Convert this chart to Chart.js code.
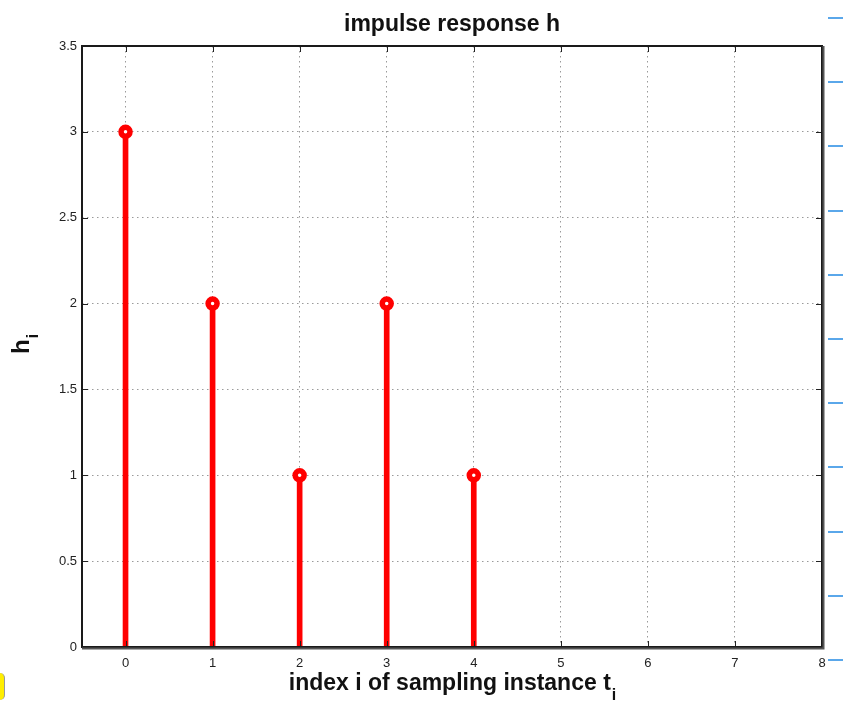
<!DOCTYPE html>
<html>
<head>
<meta charset="utf-8">
<script src="https://cdn.jsdelivr.net/npm/chart.js@4/dist/chart.umd.min.js"></script>
<style>
    html, body { margin: 0; padding: 0; background: #fff; }
    #wrap { position: relative; width: 843px; height: 708px; }
    #plot { position: absolute; left: 0; top: 0; }
    #edge-marks {
        position: absolute; left: 828px; top: 17px; width: 15px; height: 650px;
        background: repeating-linear-gradient(to bottom, #5aa7ea 0, #5aa7ea 2px, transparent 2px, transparent 64.2px);
    }
    #corner {
        position: absolute; left: -10px; top: 673px; width: 14px; height: 27px;
        background: #ffee00; border-right: 1px solid #999; border-radius: 5px;
    }
</style>
</head>
<body>
<div id="wrap">
    <canvas id="plot" width="843" height="708"></canvas>
    <div id="edge-marks"></div>
    <div id="corner"></div>
</div>
<script>
// stem plot of the sampled impulse response
const sampleIndex = [0, 1, 2, 3, 4];
const hValues     = [3, 2, 1, 2, 1];

const xTicks = [0, 1, 2, 3, 4, 5, 6, 7, 8];
const yTicks = [0, 0.5, 1, 1.5, 2, 2.5, 3, 3.5];

const TEXT_FONT = '"Liberation Sans", Arial, sans-serif';

const points = sampleIndex.map(function(x, i) { return { x: x, y: hValues[i] }; });

// box frame, inward tick marks, title and axis labels with subscripts
const framePlugin = {
    id: 'frame',
    afterDraw: function(chart) {
        var ctx = chart.ctx;
        var a = chart.chartArea;
        var xs = chart.scales.x, ys = chart.scales.y;
        ctx.save();

        ctx.strokeStyle = '#222';
        ctx.lineWidth = 1;
        ctx.beginPath();
        xs.ticks.forEach(function(t) {
            var px = Math.round(xs.getPixelForValue(t.value)) + 0.5;
            ctx.moveTo(px, a.top); ctx.lineTo(px, a.top + 6);
            ctx.moveTo(px, a.bottom); ctx.lineTo(px, a.bottom - 6);
        });
        ys.ticks.forEach(function(t) {
            var py = Math.round(ys.getPixelForValue(t.value)) + 0.5;
            ctx.moveTo(a.left, py); ctx.lineTo(a.left + 6, py);
            ctx.moveTo(a.right, py); ctx.lineTo(a.right - 6, py);
        });
        ctx.stroke();

        ctx.lineWidth = 2;
        ctx.strokeStyle = '#1a1a1a';
        ctx.strokeRect(a.left, a.top, a.right - a.left, a.bottom - a.top);
        ctx.lineWidth = 2;
        ctx.strokeStyle = '#555';
        ctx.beginPath();
        ctx.moveTo(a.right + 1.5, a.top);
        ctx.lineTo(a.right + 1.5, a.bottom + 1.5);
        ctx.lineTo(a.left, a.bottom + 1.5);
        ctx.stroke();

        ctx.fillStyle = '#111';
        ctx.textBaseline = 'alphabetic';

        // title
        ctx.font = 'bold 23px ' + TEXT_FONT;
        ctx.textAlign = 'center';
        ctx.fillText('impulse response h', (a.left + a.right) / 2, 31);

        // x label with subscript
        var main = 'index i of sampling instance t';
        ctx.font = 'bold 23px ' + TEXT_FONT;
        var w = ctx.measureText(main).width;
        ctx.font = 'bold 16px ' + TEXT_FONT;
        var ws = ctx.measureText('i').width;
        var x0 = (a.left + a.right) / 2 - (w + ws) / 2;
        ctx.textAlign = 'left';
        ctx.font = 'bold 23px ' + TEXT_FONT;
        ctx.fillText(main, x0, 690);
        ctx.font = 'bold 16px ' + TEXT_FONT;
        ctx.fillText('i', x0 + w + 1, 700);

        // y label, rotated
        ctx.translate(29, 354);
        ctx.rotate(-Math.PI / 2);
        ctx.font = 'bold 24px ' + TEXT_FONT;
        ctx.textAlign = 'left';
        ctx.fillText('h', 0, 0);
        var wh = ctx.measureText('h').width;
        ctx.font = 'bold 16px ' + TEXT_FONT;
        ctx.fillText('i', wh + 1, 9);

        ctx.restore();
    }
};

new Chart(document.getElementById('plot'), {
    data: {
        datasets: [
            {
                type: 'bar',
                data: points,
                backgroundColor: '#ff0000',
                barThickness: 5,
                order: 2
            },
            {
                type: 'scatter',
                data: points,
                showLine: false,
                pointRadius: 4.5,
                pointBorderWidth: 5.5,
                pointBorderColor: '#ff0000',
                pointBackgroundColor: '#ffffff',
                order: 1
            }
        ]
    },
    options: {
        responsive: false,
        animation: false,
        layout: { padding: { left: 0, top: 46, right: 21, bottom: 0 } },
        plugins: {
            legend: { display: false },
            tooltip: { enabled: false },
            title: { display: false }
        },
        scales: {
            x: {
                type: 'linear',
                min: -0.5,
                max: 8,
                offset: false,
                afterBuildTicks: function(scale) {
                    scale.ticks = xTicks.map(function(v) { return { value: v }; });
                },
                afterFit: function(scale) { scale.height = 61; },
                grid: {
                    color: '#9a9a9a',
                    lineWidth: 1,
                    offset: false,
                    drawTicks: false
                },
                border: { display: false, dash: [1.5, 3.5] },
                ticks: {
                    padding: 9,
                    color: '#222',
                    font: { family: TEXT_FONT, size: 13 },
                    maxRotation: 0,
                    callback: function(v) { return String(v); }
                }
            },
            y: {
                type: 'linear',
                min: 0,
                max: 3.5,
                afterBuildTicks: function(scale) {
                    scale.ticks = yTicks.map(function(v) { return { value: v }; });
                },
                afterFit: function(scale) { scale.width = 82; },
                grid: {
                    color: '#9a9a9a',
                    lineWidth: 1,
                    drawTicks: false
                },
                border: { display: false, dash: [1.5, 3.5] },
                ticks: {
                    padding: 5,
                    color: '#222',
                    font: { family: TEXT_FONT, size: 13 },
                    callback: function(v) { return String(v); }
                }
            }
        }
    },
    plugins: [framePlugin]
});
</script>
</body>
</html>
